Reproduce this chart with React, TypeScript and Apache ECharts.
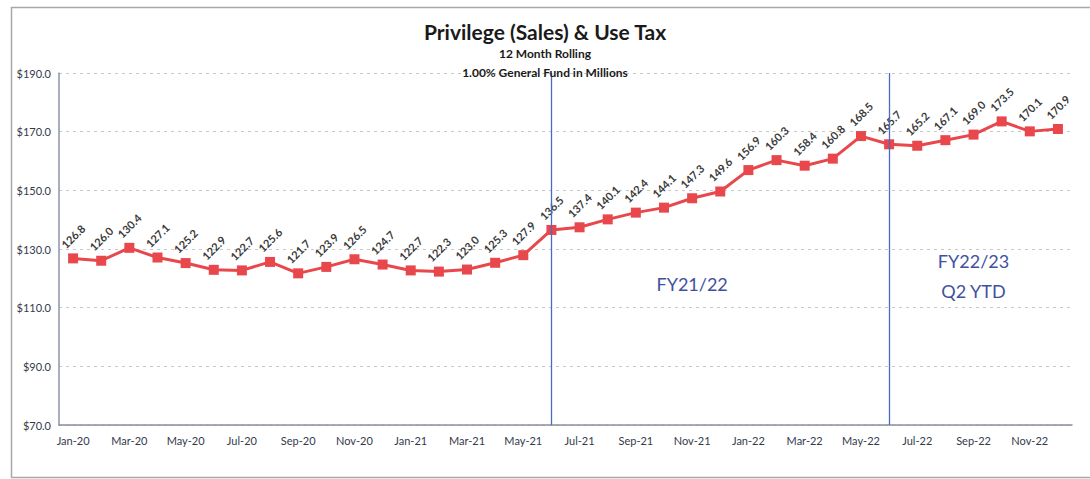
import React, { useEffect, useRef } from "react";
import * as echarts from "echarts";

const categories = [
  "Jan-20", "Feb-20", "Mar-20", "Apr-20", "May-20", "Jun-20", "Jul-20", "Aug-20", "Sep-20", "Oct-20", "Nov-20", "Dec-20",
  "Jan-21", "Feb-21", "Mar-21", "Apr-21", "May-21", "Jun-21", "Jul-21", "Aug-21", "Sep-21", "Oct-21", "Nov-21", "Dec-21",
  "Jan-22", "Feb-22", "Mar-22", "Apr-22", "May-22", "Jun-22", "Jul-22", "Aug-22", "Sep-22", "Oct-22", "Nov-22", "Dec-22",
];

const values = [
  126.8, 126.0, 130.4, 127.1, 125.2, 122.9, 122.7, 125.6, 121.7, 123.9, 126.5, 124.7,
  122.7, 122.3, 123.0, 125.3, 127.9, 136.5, 137.4, 140.1, 142.4, 144.1, 147.3, 149.6,
  156.9, 160.3, 158.4, 160.8, 168.5, 165.7, 165.2, 167.1, 169.0, 173.5, 170.1, 170.9,
];

const dividers = ["Jun-21", "Jun-22"];

const annotations = [
  { text: "FY21/22", at: "Nov-21", value: 118 },
  { text: "FY22/23\nQ2 YTD", at: "Sep-22", value: 120.7 },
];

const title = "Privilege (Sales) & Use Tax";
const subtitle1 = "12 Month Rolling";
const subtitle2 = "1.00% General Fund in Millions";

const FONT = "Lato, 'Open Sans', 'Noto Sans', sans-serif";

export default function App() {
  const ref = useRef<HTMLDivElement>(null);

  useEffect(() => {
    document.body.style.margin = "0";
    if (!ref.current) return;
    const chart = echarts.init(ref.current, null, { renderer: "svg" });
    chart.setOption({
      animation: false,
      backgroundColor: "#ffffff",
      textStyle: { fontFamily: FONT },
      title: [
        {
          text: title,
          left: "center",
          top: 16,
          textStyle: { fontFamily: FONT, fontSize: 21, fontWeight: "bold", color: "#1a1a1a" },
        },
        {
          text: subtitle1,
          left: "center",
          top: 42,
          textStyle: { fontFamily: FONT, fontSize: 12, fontWeight: "bold", color: "#1a1a1a" },
        },
        {
          text: subtitle2,
          left: "center",
          top: 61,
          textStyle: { fontFamily: FONT, fontSize: 12, fontWeight: "bold", color: "#1a1a1a" },
        },
      ],
      graphic: [
        {
          type: "rect",
          left: 9,
          top: 5,
          shape: { width: 1100, height: 470 },
          style: { fill: "none", stroke: "#a8a8a8", lineWidth: 1.5 },
          silent: true,
          z: -1,
        },
      ],
      grid: { left: 59, right: 18, top: 73, bottom: 54 },
      xAxis: {
        type: "category",
        data: categories,
        boundaryGap: true,
        axisLine: { show: true, lineStyle: { color: "#8c8f9a", width: 1.5 } },
        axisTick: { show: false },
        axisLabel: {
          interval: 1,
          fontFamily: FONT,
          fontSize: 11,
          color: "#333a4a",
          margin: 10,
        },
        splitLine: { show: false },
      },
      yAxis: {
        type: "value",
        min: 70,
        max: 190,
        interval: 20,
        axisLine: { show: true, lineStyle: { color: "#8c93a8", width: 1.5 } },
        axisTick: { show: false },
        axisLabel: {
          fontFamily: FONT,
          fontSize: 11,
          color: "#333a4a",
          margin: 8,
          formatter: (v: number) => "$" + v.toFixed(1),
        },
        splitLine: { show: true, lineStyle: { color: "#c8c8c8", type: [3, 4], width: 1 } },
      },
      series: [
        {
          type: "line",
          data: values,
          symbol: "rect",
          symbolSize: 10,
          lineStyle: { color: "#e8474c", width: 3 },
          itemStyle: { color: "#e8474c" },
          label: {
            show: true,
            position: "top",
            distance: 17,
            rotate: 45,
            align: "center",
            verticalAlign: "middle",
            fontFamily: FONT,
            fontSize: 11,
            fontWeight: "bold",
            color: "#3a3a3a",
            formatter: (p: any) => Number(p.value).toFixed(1),
          },
          markLine: {
            silent: true,
            symbol: "none",
            label: { show: false },
            lineStyle: { color: "#4a6bc4", width: 1.3, type: "solid" },
            data: dividers.map((d) => ({ xAxis: d })),
          },
          markPoint: {
            silent: true,
            symbol: "rect",
            symbolSize: 0,
            label: {
              show: true,
              position: "inside",
              fontFamily: FONT,
              fontSize: 18,
              lineHeight: 30,
              color: "#3f519e",
              formatter: (p: any) => p.name,
            },
            data: annotations.map((a) => ({ name: a.text, coord: [a.at, a.value] })),
          },
        },
      ],
    });
    return () => chart.dispose();
  }, []);

  return <div ref={ref} style={{ width: 1090, height: 479 }} />;
}
